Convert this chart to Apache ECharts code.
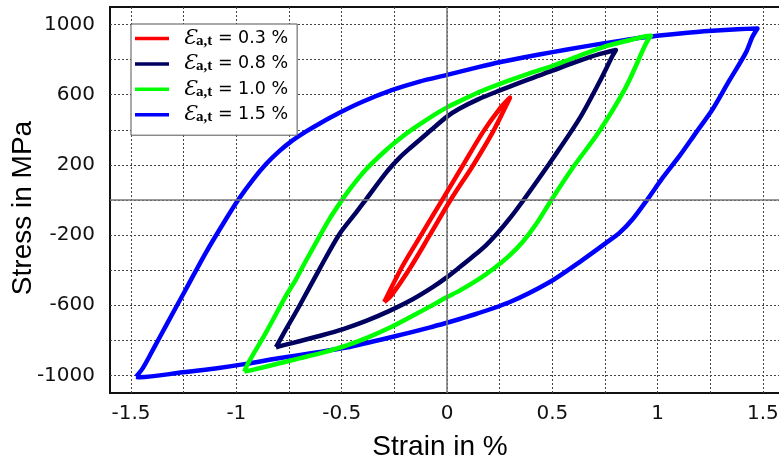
<!DOCTYPE html>
<html>
<head>
<meta charset="utf-8">
<script src="https://cdn.jsdelivr.net/npm/echarts@6/dist/echarts.min.js"></script>
<style>
  html, body { margin: 0; padding: 0; background: #fff; }
  #chart { width: 779px; height: 461px; }
</style>
</head>
<body>
<div id="chart"></div>
<script>
// strain amplitudes (legend)
const amplitudes = ['0.3', '0.8', '1.0', '1.5']
const colors = ['#ff0000', '#000060', '#00ff00', '#0000ff']

// axis ticks
const strainGrid = [-1.5, -1.25, -1, -0.75, -0.5, -0.25, 0, 0.25, 0.5, 0.75, 1, 1.25, 1.5]
const strainLabels = [-1.5, -1, -0.5, 0, 0.5, 1, 1.5]
const stressGrid = [-1000, -800, -600, -400, -200, 0, 200, 400, 600, 800, 1000]
const stressLabels = [-1000, -600, -200, 200, 600, 1000]

// hysteresis loops [strain %, stress MPa]
const loop03 = [
  [-0.298, -581], [-0.211, -376], [-0.116, -186], [-0.021, 4], [0.074, 194], [0.169, 384], [0.248, 517], [0.299, 583],
  [0.280, 536], [0.216, 384], [0.122, 194], [0.019, 4], [-0.084, -205], [-0.179, -395], [-0.266, -547], [-0.298, -581]
]
const loop08 = [
  [-0.812, -839], [-0.78, -770], [-0.701, -604], [-0.606, -395], [-0.511, -195], [-0.432, -72], [-0.384, 4],
  [-0.289, 156], [-0.226, 240], [-0.179, 292], [-0.084, 390], [0, 475], [0.058, 520], [0.15, 575], [0.248, 623],
  [0.375, 682], [0.501, 737], [0.62, 790], [0.723, 831], [0.802, 855],
  [0.786, 822], [0.723, 671], [0.628, 462], [0.501, 234], [0.367, 6], [0.296, -108], [0.24, -188], [0.185, -258],
  [0.12, -325], [0.058, -385], [-0.005, -444], [-0.068, -497], [-0.163, -566], [-0.273, -632], [-0.384, -689],
  [-0.496, -737], [-0.606, -775], [-0.701, -805], [-0.77, -826], [-0.812, -839]
]
const loop10 = [
  [-0.962, -978], [-0.946, -934], [-0.859, -754], [-0.764, -545], [-0.717, -452], [-0.669, -345], [-0.559, -110],
  [-0.496, 4], [-0.464, 58], [-0.384, 175], [-0.289, 285], [-0.226, 348], [-0.162, 405], [-0.068, 480], [0, 528],
  [0.058, 562], [0.15, 614], [0.248, 661], [0.375, 715], [0.501, 765], [0.628, 822], [0.755, 877], [0.87, 912],
  [0.944, 933], [0.968, 936],
  [0.944, 890], [0.85, 645], [0.723, 392], [0.596, 182], [0.501, 10], [0.422, -140], [0.359, -239], [0.296, -317],
  [0.224, -389], [0.153, -450], [0.058, -518], [-0.005, -556], [-0.052, -588], [-0.147, -650], [-0.258, -720],
  [-0.369, -780], [-0.479, -830], [-0.59, -870], [-0.701, -903], [-0.8, -932], [-0.923, -968], [-0.962, -978]
]
const loop15 = [
  [-1.476, -1007], [-1.445, -960], [-1.39, -840], [-1.334, -716], [-1.239, -507], [-1.144, -298], [-1.049, -108],
  [-0.986, 10], [-0.92, 118], [-0.859, 205], [-0.795, 280], [-0.733, 340], [-0.67, 390], [-0.606, 435], [-0.511, 497],
  [-0.401, 560], [-0.259, 627], [-0.131, 675], [0, 713], [0.125, 750], [0.248, 785], [0.375, 815], [0.501, 843],
  [0.628, 870], [0.755, 895], [0.88, 918], [1.008, 937], [1.13, 952], [1.26, 964], [1.38, 973], [1.474, 978],
  [1.45, 930], [1.419, 840], [1.34, 680], [1.261, 517], [1.18, 380], [1.104, 251], [1.02, 120], [0.952, 4],
  [0.881, -110], [0.82, -186], [0.755, -245], [0.628, -355], [0.486, -469], [0.296, -583], [0.09, -668], [-0.005, -701],
  [-0.084, -727], [-0.242, -775], [-0.479, -841], [-0.638, -872], [-0.8, -902], [-0.954, -934], [-1.1, -960],
  [-1.255, -982], [-1.46, -1010], [-1.476, -1007]
]
const loops = [loop03, loop08, loop10, loop15]

const chart = echarts.init(document.getElementById('chart'))

const labelFont = { fontFamily: 'DejaVu Sans', fontSize: 20, color: '#111' }
const titleFont = { fontFamily: 'Liberation Sans', fontSize: 28, color: '#000' }
const gridLine = { show: true, lineStyle: { color: '#444', width: 1, type: [2, 2] } }

chart.setOption({
  animation: false,
  backgroundColor: '#fff',
  grid: {
    left: 110, top: 7, width: 674, height: 386,
    outerBoundsMode: 'none',
    show: true, borderColor: '#111', borderWidth: 2, backgroundColor: '#fff'
  },
  legend: {
    data: amplitudes,
    orient: 'vertical',
    left: 131, top: 24,
    icon: 'rect', itemWidth: 34, itemHeight: 3.5, itemGap: 4.4,
    padding: [4, 9, 10, 4],
    backgroundColor: '#fff', borderColor: '#555', borderWidth: 1,
    itemStyle: { borderWidth: 0 },
    formatter: name => '{e|Ɛ}{s|a,t}{t| = ' + name + ' %}',
    textStyle: {
      rich: {
        e: { fontFamily: 'DejaVu Serif', fontStyle: 'italic', fontSize: 21, lineHeight: 20, padding: [0, 0, 0, 9], color: '#000' },
        s: { fontFamily: 'Liberation Serif', fontWeight: 'bold', fontSize: 15, lineHeight: 15, verticalAlign: 'bottom', color: '#000' },
        t: { fontFamily: 'DejaVu Sans', fontSize: 17.5, lineHeight: 20, color: '#000' }
      }
    }
  },
  xAxis: {
    type: 'value', min: -1.6, max: 1.6,
    name: 'Strain in %', nameLocation: 'middle', nameGap: 40, nameMoveOverlap: false,
    nameTextStyle: Object.assign({ padding: [0, 14, 0, 0] }, titleFont),
    axisLine: { show: false },
    axisTick: { show: false, customValues: strainGrid },
    axisLabel: Object.assign({ margin: 11, customValues: strainLabels, formatter: v => String(v) }, labelFont),
    splitLine: gridLine
  },
  yAxis: {
    type: 'value', min: -1100, max: 1100,
    name: 'Stress in MPa', nameLocation: 'middle', nameGap: 73, nameMoveOverlap: false,
    nameTextStyle: Object.assign({ padding: [0, 16, 0, 0] }, titleFont),
    axisLine: { show: false },
    axisTick: { show: false, customValues: stressGrid },
    axisLabel: Object.assign({ margin: 15, customValues: stressLabels, formatter: v => String(v) }, labelFont),
    splitLine: gridLine
  },
  series: amplitudes.map((a, i) => ({
    name: a,
    type: 'line',
    data: loops[i],
    color: colors[i],
    showSymbol: false,
    symbol: 'none',
    smooth: 0.3,
    z: 5 - i,
    lineStyle: { width: 4.5, color: colors[i], join: 'round' },
    markLine: i === 0 ? {
      silent: true, symbol: 'none', label: { show: false },
      lineStyle: { color: '#777', width: 1.5, type: 'solid' },
      data: [{ xAxis: 0 }, { yAxis: 0 }]
    } : undefined
  }))
})
</script>
</body>
</html>
